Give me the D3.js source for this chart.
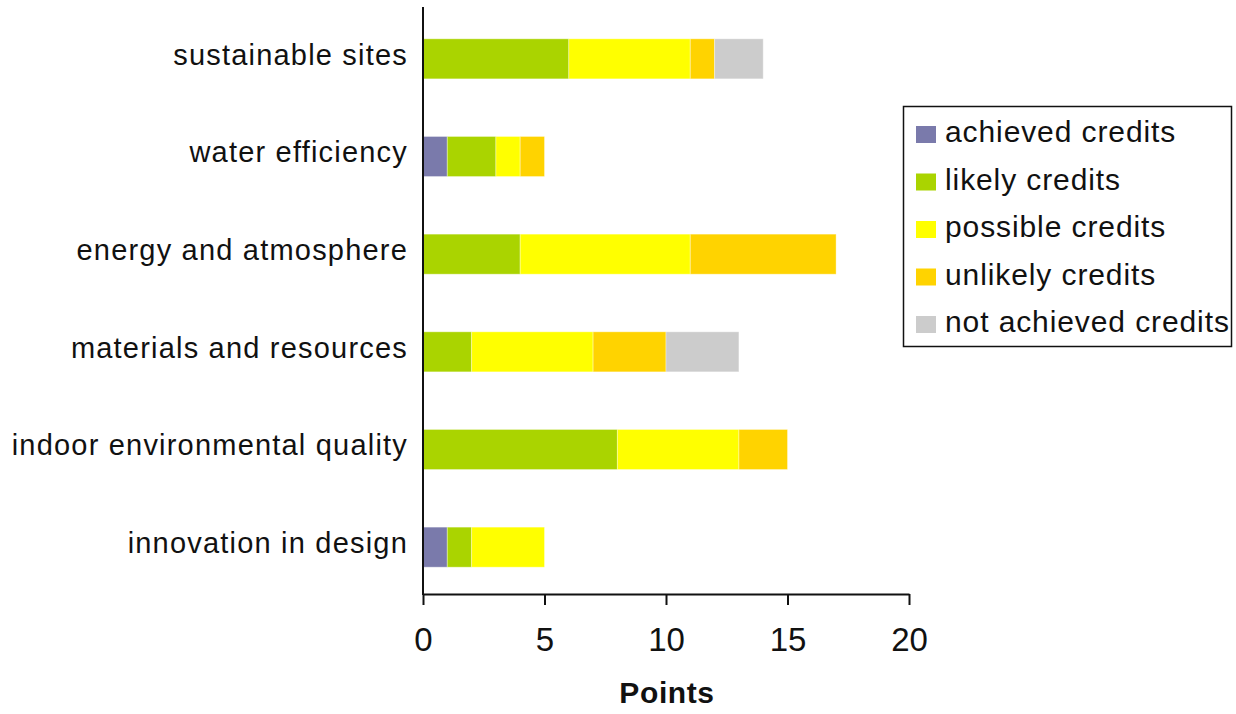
<!DOCTYPE html>
<html>
<head>
<meta charset="utf-8">
<script src="https://cdn.jsdelivr.net/npm/d3@7/dist/d3.min.js"></script>
<style>
  html, body { margin: 0; padding: 0; background: #fff; }
  svg { display: block; }
  text { font-family: "Liberation Sans", Arial, sans-serif; fill: #111; }
</style>
</head>
<body>
<svg id="chart" width="1236" height="714"></svg>
<script>
const categories = ["sustainable sites", "water efficiency", "energy and atmosphere",
  "materials and resources", "indoor environmental quality", "innovation in design"];
const seriesNames = ["achieved credits", "likely credits", "possible credits", "unlikely credits", "not achieved credits"];
const achieved    = [0, 1, 0, 0, 0, 1];
const likely      = [6, 2, 4, 2, 8, 1];
const possible    = [5, 1, 7, 5, 5, 3];
const unlikely    = [1, 1, 6, 3, 2, 0];
const notAchieved = [2, 0, 0, 3, 0, 0];
const xTicks = [0, 5, 10, 15, 20];
const colors = ["#7a7aab", "#aad400", "#ffff00", "#ffd300", "#cccccc"];

const seriesValues = [achieved, likely, possible, unlikely, notAchieved];
const rows = categories.map((c, i) => {
  const r = { category: c };
  seriesNames.forEach((s, j) => r[s] = seriesValues[j][i]);
  return r;
});
const stacked = d3.stack().keys(seriesNames)(rows);

const svg = d3.select("#chart");
const x = d3.scaleLinear().domain([0, 20]).range([423, 909]);
const y = d3.scaleBand().domain(categories).range([10, 596]).paddingInner(0.59).paddingOuter(0.295);
const color = d3.scaleOrdinal().domain(seriesNames).range(colors);

// bars
svg.append("g").selectAll("g").data(stacked).join("g")
  .attr("fill", d => color(d.key))
  .selectAll("rect").data(d => d).join("rect")
  .attr("x", d => x(d[0]))
  .attr("y", d => y(d.data.category))
  .attr("width", d => x(d[1]) - x(d[0]))
  .attr("height", y.bandwidth())
  .attr("stroke", "rgba(255,255,255,0.35)")
  .attr("stroke-width", 1);

// x axis
const xAxis = svg.append("g").attr("transform", "translate(0,594)")
  .call(d3.axisBottom(x).tickValues(xTicks).tickSize(11).tickSizeOuter(0));
xAxis.select(".domain").attr("stroke", "#111").attr("stroke-width", 2);
xAxis.selectAll(".tick line").attr("stroke", "#111").attr("stroke-width", 2);
xAxis.selectAll(".tick text")
  .attr("y", 34)
  .style("font-family", '"Liberation Sans", Arial, sans-serif')
  .style("font-size", "33px").attr("fill", "#1a1a1a");

// y axis
const yAxis = svg.append("g").attr("transform", "translate(423,0)")
  .call(d3.axisLeft(y).tickSize(0).tickPadding(15));
yAxis.select(".domain").remove();
yAxis.selectAll(".tick text")
  .attr("dy", "0.2em")
  .style("font-family", '"Liberation Sans", Arial, sans-serif')
  .style("font-size", "29px").style("letter-spacing", "1.2px").attr("fill", "#111");
svg.append("line").attr("x1", 423).attr("x2", 423).attr("y1", 7).attr("y2", 595)
  .attr("stroke", "#111").attr("stroke-width", 2);

// x title
svg.append("text").attr("x", 667).attr("y", 703).attr("text-anchor", "middle")
  .style("font-size", "30px").style("font-weight", "bold").style("letter-spacing", "0.6px")
  .text("Points");

// legend
const lg = svg.append("g");
lg.append("rect").attr("x", 903.5).attr("y", 106.5).attr("width", 328).attr("height", 240)
  .attr("fill", "#fff").attr("stroke", "#111").attr("stroke-width", 1.5);
const items = lg.selectAll("g.item").data(seriesNames).join("g").attr("class", "item")
  .attr("transform", (d, i) => `translate(0,${142 + i * 47.5})`);
items.append("rect").attr("x", 916).attr("y", -16).attr("width", 20).attr("height", 17)
  .attr("fill", d => color(d));
items.append("text").attr("x", 945).attr("y", 0)
  .style("font-size", "30px").style("letter-spacing", "0.9px").text(d => d);
</script>
</body>
</html>
